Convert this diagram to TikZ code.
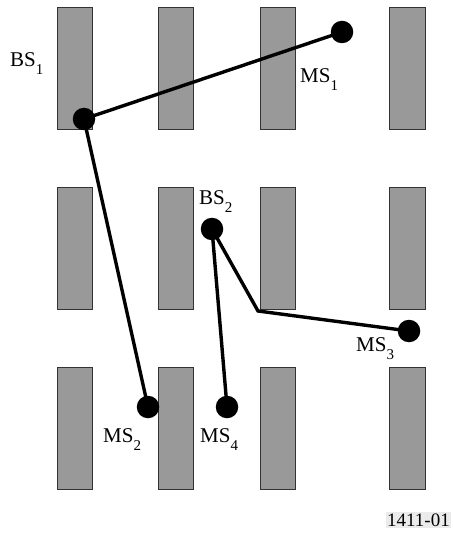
\documentclass[tikz,border=0pt]{standalone}
\usepackage{fontspec}
\setmainfont{Liberation Serif}
\newcommand{\mysub}[1]{\raisebox{-8pt}{\fontsize{15}{15}\selectfont #1}}
\begin{document}
\begin{tikzpicture}[x=1pt,y=-1pt,
  building/.style={draw=black!80,line width=0.8pt,fill=black!40},
  link/.style={line width=3.4pt},
  station/.style={circle,fill=black,inner sep=0pt,minimum size=22.5pt},
  lbl/.style={anchor=base west,inner sep=0pt,font=\fontsize{21}{21}\selectfont},
  tag/.style={anchor=east,inner xsep=1pt,inner ysep=2pt,fill=black!8,font=\fontsize{19}{19}\selectfont}]
\useasboundingbox (0,0) rectangle (452,534);
% buildings
\foreach \xa/\xb in {57/92,158/193,260/295,389/425}{
  \foreach \ya/\yb in {7/129,187/309,367/489}{
    \draw[building] (\xa,\ya) rectangle (\xb,\yb);
  }
}
% station positions
\coordinate (bs1) at (84,119);
\coordinate (ms1) at (342,32);
\coordinate (bs2) at (212,229);
\coordinate (bend) at (258,311);
\coordinate (ms3) at (409,331);
\coordinate (ms2) at (148,407);
\coordinate (ms4) at (227,407);
% links
\draw[link] (bs1) -- (ms1);
\draw[link] (bs1) -- (ms2);
\draw[link] (bs2) -- (ms4);
\draw[link,line join=miter] (bs2) -- (bend) -- (ms3);
% stations
\foreach \s in {bs1,ms1,bs2,ms3,ms2,ms4}{
  \node[station] (n\s) at (\s) {};
}
% labels
\node[lbl] (lbs1) at (10,67) {BS\mysub{1}};
\node[lbl] (lms1) at (300,83) {MS\mysub{1}};
\node[lbl] (lbs2) at (199,205) {BS\mysub{2}};
\node[lbl] (lms3) at (356,351) {MS\mysub{3}};
\node[lbl] (lms2) at (103,442) {MS\mysub{2}};
\node[lbl] (lms4) at (200,442) {MS\mysub{4}};
\node[tag] (fig) at (451,520) {1411-01};
\end{tikzpicture}
\end{document}
